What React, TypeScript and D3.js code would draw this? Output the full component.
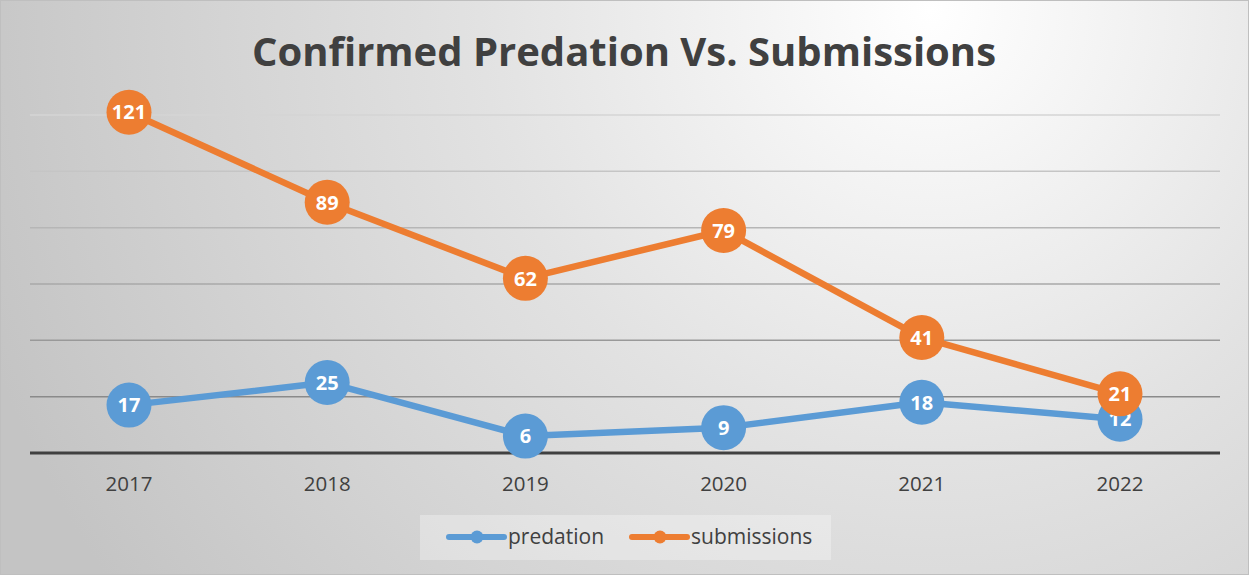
import React, { useRef, useEffect } from "react";
import * as d3 from "d3";

const years = ["2017", "2018", "2019", "2020", "2021", "2022"];
const predation = [17, 25, 6, 9, 18, 12];
const submissions = [121, 89, 62, 79, 41, 21];
const gridTicks = [20, 40, 60, 80, 100, 120];

const W = 1249;
const H = 575;

const App = () => {
  const svgRef = useRef<SVGSVGElement>(null);

  useEffect(() => {
    document.body.style.margin = "0";
    const svg = d3.select(svgRef.current);
    svg.selectAll("*").remove();

    const defs = svg.append("defs");
    const grad = defs.append("radialGradient")
      .attr("id", "bg")
      .attr("gradientUnits", "userSpaceOnUse")
      .attr("cx", 930).attr("cy", 10).attr("r", 1000);
    grad.append("stop").attr("offset", "0%").attr("stop-color", "#ffffff");
    grad.append("stop").attr("offset", "45%").attr("stop-color", "#e2e2e2");
    grad.append("stop").attr("offset", "100%").attr("stop-color", "#c4c4c4");

    svg.append("rect")
      .attr("x", 0.5).attr("y", 0.5)
      .attr("width", W - 1).attr("height", H - 1)
      .attr("fill", "url(#bg)")
      .attr("stroke", "#bfbfbf");

    const x = d3.scalePoint().domain(years).range([129, 1120]);
    const y = d3.scaleLinear().domain([0, 120]).range([453, 115]);

    // Title
    svg.append("text")
      .attr("x", 624).attr("y", 66)
      .attr("text-anchor", "middle")
      .attr("font-family", "'Open Sans', sans-serif")
      .attr("font-weight", "bold")
      .attr("font-size", 40)
      .attr("fill", "#404040")
      .text("Confirmed Predation Vs. Submissions");

    // Gridlines
    const gridColor = d3.interpolateRgb("#d4d4d4", "#8a8a8a");
    svg.append("g")
      .selectAll("line")
      .data(gridTicks)
      .join("line")
      .attr("x1", 30).attr("x2", 1220)
      .attr("y1", d => y(d)).attr("y2", d => y(d))
      .attr("stroke", (d, i) => gridColor(1 - i / (gridTicks.length - 1)))
      .attr("stroke-width", 1.5);

    // Baseline
    svg.append("line")
      .attr("x1", 30).attr("x2", 1220)
      .attr("y1", y(0)).attr("y2", y(0))
      .attr("stroke", "#404040")
      .attr("stroke-width", 3);

    // X labels
    svg.append("g")
      .selectAll("text")
      .data(years)
      .join("text")
      .attr("x", d => x(d)!)
      .attr("y", 491)
      .attr("text-anchor", "middle")
      .attr("font-family", "'Open Sans', sans-serif")
      .attr("font-size", 20.5)
      .attr("fill", "#404040")
      .text(d => d);

    const series = [
      { name: "predation", values: predation, color: "#5b9bd5" },
      { name: "submissions", values: submissions, color: "#ed7d31" }
    ];

    const line = d3.line<number>()
      .x((d, i) => x(years[i])!)
      .y(d => y(d));

    series.forEach(s => {
      const g = svg.append("g");
      g.append("path")
        .attr("d", line(s.values))
        .attr("fill", "none")
        .attr("stroke", s.color)
        .attr("stroke-width", 6.5)
        .attr("stroke-linejoin", "round");
      g.selectAll("circle")
        .data(s.values)
        .join("circle")
        .attr("cx", (d, i) => x(years[i])!)
        .attr("cy", d => y(d))
        .attr("r", 22.5)
        .attr("fill", s.color);
      g.selectAll("text")
        .data(s.values)
        .join("text")
        .attr("x", (d, i) => x(years[i])!)
        .attr("y", d => y(d))
        .attr("dy", "0.36em")
        .attr("text-anchor", "middle")
        .attr("font-family", "'Open Sans', sans-serif")
        .attr("font-weight", "bold")
        .attr("font-size", 20)
        .attr("fill", "#ffffff")
        .text(d => d);
    });

    // Legend
    const legend = svg.append("g");
    legend.append("rect")
      .attr("x", 420).attr("y", 515)
      .attr("width", 411).attr("height", 45)
      .attr("fill", "#ffffff")
      .attr("fill-opacity", 0.3);
    const legendItems = [
      { s: series[0], x0: 449 },
      { s: series[1], x0: 632 }
    ];
    legendItems.forEach(({ s, x0 }) => {
      legend.append("line")
        .attr("x1", x0).attr("x2", x0 + 55)
        .attr("y1", 537).attr("y2", 537)
        .attr("stroke", s.color)
        .attr("stroke-width", 6)
        .attr("stroke-linecap", "round");
      legend.append("circle")
        .attr("cx", x0 + 28).attr("cy", 537).attr("r", 6.5)
        .attr("fill", s.color);
      legend.append("text")
        .attr("x", x0 + 59).attr("y", 544)
        .attr("font-family", "'Open Sans', sans-serif")
        .attr("font-size", 21)
        .attr("fill", "#404040")
        .text(s.name);
    });
  }, []);

  return <svg ref={svgRef} width={W} height={H} style={{ display: "block" }} />;
};

export default App;
